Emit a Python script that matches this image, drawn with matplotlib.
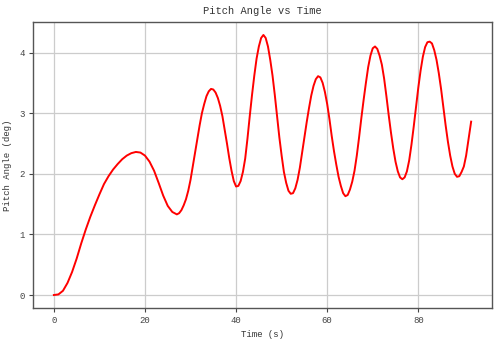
import matplotlib.pyplot as plt

# Значения (время в секундах, угол тангажа в градусах).
time_s = [0, 1, 2, 3, 4, 5, 6, 7, 8, 9, 10, 11, 12, 13, 14, 15, 16, 17, 18, 19,
          20, 21, 22, 23, 24, 25, 26,
          27, 27.5, 28, 28.5, 29, 29.5, 30, 30.5, 31, 31.5, 32, 32.5, 33, 33.5,
          34, 34.5, 35, 35.5, 36, 36.5, 37, 37.5, 38, 38.5, 39, 39.5, 40, 40.5,
          41, 41.5, 42, 42.5, 43, 43.5, 44, 44.5, 45, 45.5, 46, 46.5, 47, 47.5,
          48, 48.5, 49, 49.5, 50, 50.5, 51, 51.5, 52, 52.5, 53, 53.5, 54, 54.5,
          55, 55.5, 56, 56.5, 57, 57.5, 58, 58.5, 59, 59.5, 60, 60.5, 61, 61.5,
          62, 62.5, 63, 63.5, 64, 64.5, 65, 65.5, 66, 66.5, 67, 67.5, 68, 68.5,
          69, 69.5, 70, 70.5, 71, 71.5, 72, 72.5, 73, 73.5, 74, 74.5, 75, 75.5,
          76, 76.5, 77, 77.5, 78, 78.5, 79, 79.5, 80, 80.5, 81, 81.5, 82, 82.5,
          83, 83.5, 84, 84.5, 85, 85.5, 86, 86.5, 87, 87.5, 88, 88.5, 89, 89.5,
          90, 90.5, 91, 91.6]
pitch_deg = [0.00, 0.01, 0.07, 0.20, 0.38, 0.60, 0.85, 1.08, 1.29, 1.48, 1.66,
             1.83, 1.96, 2.07, 2.16, 2.24, 2.30, 2.34, 2.36, 2.35, 2.30, 2.20,
             2.05, 1.85, 1.64, 1.47, 1.37,
             1.33, 1.35, 1.40, 1.48, 1.58, 1.72, 1.90, 2.12, 2.35, 2.58, 2.80,
             3.00, 3.15, 3.28, 3.36, 3.40, 3.39, 3.34, 3.25, 3.12, 2.95, 2.73,
             2.50, 2.26, 2.05, 1.88, 1.79, 1.80, 1.88, 2.03, 2.25, 2.58, 2.95,
             3.30, 3.62, 3.90, 4.10, 4.24, 4.29, 4.24, 4.10, 3.88, 3.62, 3.30,
             2.95, 2.60, 2.30, 2.03, 1.85, 1.72, 1.67, 1.68, 1.76, 1.90, 2.10,
             2.35, 2.60, 2.85, 3.08, 3.29, 3.45, 3.56, 3.61, 3.59, 3.50, 3.35,
             3.15, 2.90, 2.62, 2.37, 2.15, 1.95, 1.80, 1.68, 1.63, 1.65, 1.74,
             1.87, 2.05, 2.30, 2.60, 2.92, 3.22, 3.50, 3.76, 3.95, 4.07, 4.10,
             4.06, 3.95, 3.80, 3.57, 3.28, 2.97, 2.68, 2.42, 2.20, 2.04, 1.94,
             1.91, 1.94, 2.04, 2.22, 2.48, 2.78, 3.10, 3.42, 3.70, 3.93, 4.09,
             4.17, 4.18, 4.15, 4.04, 3.88, 3.66, 3.40, 3.10, 2.80, 2.53, 2.30,
             2.12, 2.00, 1.95, 1.96, 2.03, 2.12, 2.30, 2.55, 2.86]

plt.rcParams['font.family'] = ['Liberation Mono', 'DejaVu Sans Mono']

fig = plt.figure(figsize=(5, 3.43), dpi=100)
ax = fig.add_axes([0.066, 0.102, 0.918, 0.834])

ax.plot(time_s, pitch_deg, color='red', linewidth=1.4)

ax.set_title('Pitch Angle vs Time', fontsize=7.5, color='#333333', pad=6)
ax.set_xlabel('Time (s)', fontsize=6.5, color='#333333', labelpad=3)
ax.set_ylabel('Pitch Angle (deg)', fontsize=6.5, color='#333333', labelpad=5)

ax.set_xticks([0, 20, 40, 60, 80])
ax.set_yticks([0, 1, 2, 3, 4])
ax.tick_params(labelsize=6.5, labelcolor='#444444', color='#444444',
               length=3, width=0.8, pad=3)
ax.grid(True, color='#cccccc', linewidth=0.9)
for sp in ax.spines.values():
    sp.set_color('#555555')
    sp.set_linewidth(1.0)

fig.savefig('out.png', dpi=100)
